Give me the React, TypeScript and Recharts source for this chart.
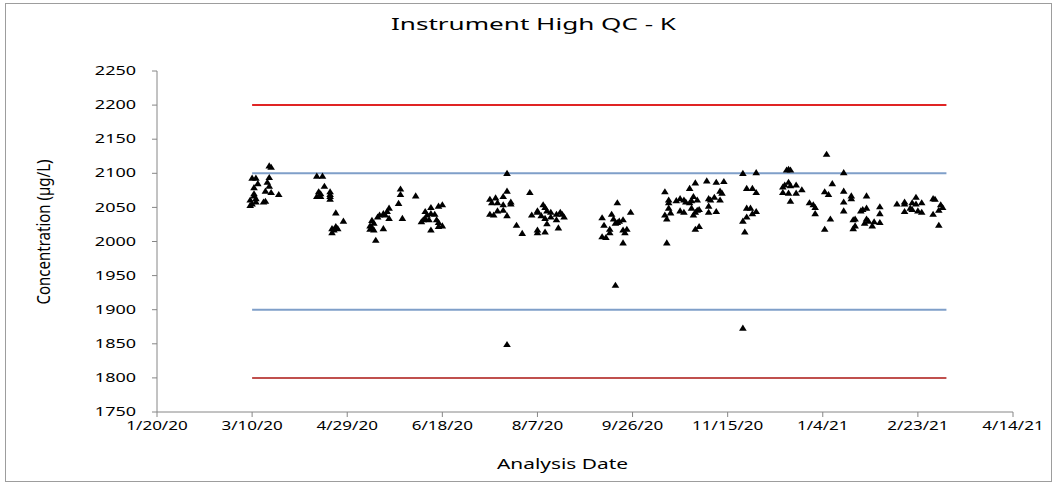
import { ScatterChart, Scatter, XAxis, YAxis, ReferenceLine } from "recharts"

// x values are days counted from 1/20/20
const xTickDays = [0, 50, 100, 150, 200, 250, 300, 350, 400, 450]
const xTickLabels = ["1/20/20", "3/10/20", "4/29/20", "6/18/20", "8/7/20", "9/26/20", "11/15/20", "1/4/21", "2/23/21", "4/14/21"]
const yTicks = [1750, 1800, 1850, 1900, 1950, 2000, 2050, 2100, 2150, 2200, 2250]

// control limits run from 3/10/20 to 3/10/21
const limitStartDay = 50
const limitEndDay = 415
const limitValues = [2200, 2100, 1900, 1800]

const sampleDays = [
  59, 60, 50, 52, 59, 53, 58, 51, 59, 57, 60, 64, 51, 51, 52, 49, 52, 56, 57, 49, 50,
  84, 87, 88, 85, 86, 84, 86, 91, 91, 91, 91,
  94, 98, 92, 94, 95, 93, 92,
  113, 114, 112, 113, 114, 112, 115, 119, 116, 117, 119, 121, 122, 120, 122, 128, 128, 127, 129, 136,
  144, 148, 150, 141, 144, 142, 146, 140, 141, 139, 143, 147, 148, 150, 148, 144,
  184, 184, 175, 178, 176, 179, 182, 182, 186, 186, 175, 177, 179, 182, 184, 189, 192, 184,
  196, 203, 204, 200, 200, 197, 205, 207, 202, 204, 207, 210, 212, 213, 214, 210, 205, 211, 200, 200, 204,
  242, 234, 239, 240, 242, 243, 241, 245, 249, 235, 238, 238, 234, 236, 245, 247, 246, 245, 241,
  267, 269, 269, 273, 275, 277, 269, 267, 268, 270, 275, 277, 268, 280, 283, 289, 294, 298, 296, 297,
  282, 281, 284, 278, 280, 290, 291, 293, 296, 281, 284, 285, 290, 290, 294, 283, 285, 282, 283,
  308, 315, 310, 313, 315, 310, 312, 315, 313, 310, 308, 309, 308,
  332, 331, 333, 330, 332, 329, 333, 336, 339, 329, 332, 336, 333,
  352, 361, 355, 351, 353, 361, 361, 361, 354, 351, 343, 345, 346, 346, 365, 365, 373, 371, 370, 373,
  380, 380, 366, 367, 367, 366, 372, 374, 373, 376, 377, 380,
  389, 393, 393, 397, 399, 402, 399, 396, 397, 400, 402, 393, 408, 409, 412, 413, 411, 408, 411,
]

const sampleValues = [
  2111, 2109, 2093, 2093, 2094, 2085, 2087, 2079, 2081, 2074, 2072, 2069, 2070, 2067, 2063, 2061, 2058, 2058, 2059, 2053, 2055,
  2096, 2096, 2081, 2073, 2070, 2066, 2066, 2073, 2069, 2066, 2062,
  2042, 2030, 2019, 2022, 2019, 2017, 2013,
  2031, 2027, 2023, 2021, 2017, 2018, 2002, 2019, 2036, 2039, 2041, 2044, 2049, 2039, 2034, 2077, 2069, 2056, 2034, 2067,
  2050, 2052, 2054, 2044, 2041, 2039, 2040, 2032, 2034, 2029, 2032, 2032, 2028, 2023, 2022, 2017,
  2100, 2074, 2062, 2064, 2057, 2057, 2066, 2054, 2058, 2055, 2040, 2039, 2045, 2046, 2038, 2024, 2012, 1849,
  2072, 2054, 2050, 2045, 2043, 2039, 2045, 2043, 2038, 2034, 2036, 2040, 2043, 2040, 2036, 2032, 2026, 2020, 2017, 2013, 2014,
  2057, 2035, 2040, 2033, 2028, 2030, 2027, 2032, 2043, 2024, 2018, 2013, 2007, 2006, 2017, 2018, 2013, 1998, 1936,
  2073, 2061, 2057, 2060, 2063, 2061, 2049, 2039, 2033, 2042, 2045, 2043, 1998, 2078, 2086, 2089, 2087, 2088, 2074, 2071,
  2066, 2060, 2061, 2058, 2057, 2063, 2061, 2065, 2061, 2049, 2046, 2047, 2052, 2043, 2044, 2018, 2022, 2039, 2043,
  2100, 2101, 2078, 2078, 2072, 2049, 2049, 2044, 2041, 2036, 2030, 2014, 1873,
  2106, 2105, 2105, 2083, 2087, 2080, 2082, 2083, 2076, 2072, 2071, 2071, 2059,
  2128, 2101, 2085, 2073, 2069, 2074, 2058, 2045, 2033, 2018, 2057, 2054, 2050, 2041, 2067, 2063, 2067, 2047, 2045, 2049,
  2051, 2041, 2032, 2033, 2023, 2019, 2027, 2030, 2033, 2023, 2029, 2028,
  2055, 2058, 2055, 2057, 2055, 2057, 2065, 2049, 2047, 2045, 2043, 2044, 2063, 2062, 2054, 2050, 2046, 2040, 2024,
]

const points = sampleDays.map((day, i) => ({ day, value: sampleValues[i] }))

const limitColors: Record<number, string> = { 2200: "#e02424", 2100: "#7f9fc9", 1900: "#7f9fc9", 1800: "#c0504d" }
const font = "'Noto Sans', sans-serif"

const Triangle = (props: any) => {
  const { cx, cy } = props
  return <polygon points={`${cx},${cy - 3.5} ${cx + 3.8},${cy + 2.6} ${cx - 3.8},${cy + 2.6}`} fill="#000" />
}

const XTick = ({ x, y, payload }: any) => {
  const i = xTickDays.indexOf(payload.value)
  return (
    <text x={x} y={y} dy="0.71em" textAnchor="middle" fontSize={12} fontFamily={font} fill="#000"
      transform={`translate(${x},0) scale(1.42,1) translate(${-x},0)`}>
      {xTickLabels[i]}
    </text>
  )
}

const YTick = ({ x, y, payload }: any) => (
  <text x={x} y={y} dy="0.35em" textAnchor="end" fontSize={12} fontFamily={font} fill="#000"
    transform={`translate(${x},0) scale(1.5,1) translate(${-x},0)`}>
    {payload.value}
  </text>
)

export default function App() {
  return (
    <div style={{ position: "absolute", left: 0, top: 0, width: 1058, height: 487, background: "#fff" }}>
      <div style={{ position: "absolute", left: 5, top: 3, width: 1045, height: 477, border: "1px solid #9d9d9d" }} />
      <div style={{ position: "absolute", left: 0, top: 0 }}>
        <ScatterChart width={1058} height={487} margin={{ top: 71, right: 45, bottom: 45, left: 97 }}>
          <XAxis
            type="number"
            dataKey="day"
            domain={[0, 450]}
            ticks={xTickDays}
            height={30}
            stroke="#868686"
            tickSize={5}
            tickMargin={4}
            tick={<XTick />}
            allowDataOverflow
          />
          <YAxis
            type="number"
            dataKey="value"
            domain={[1750, 2250]}
            ticks={yTicks}
            width={60}
            stroke="#868686"
            tickSize={5}
            tickMargin={16}
            tick={<YTick />}
            allowDataOverflow
          />
          {limitValues.map((v) => (
            <ReferenceLine
              key={v}
              segment={[{ x: limitStartDay, y: v }, { x: limitEndDay, y: v }]}
              stroke={limitColors[v]}
              strokeWidth={2}
            />
          ))}
          <Scatter data={points} shape={<Triangle />} isAnimationActive={false} />
        </ScatterChart>
      </div>
      <svg width={1058} height={487} style={{ position: "absolute", left: 0, top: 0, pointerEvents: "none" }}>
        <text x={391} y={29.5} fontSize={17} fontFamily={font} fill="#000" textLength={285} lengthAdjust="spacingAndGlyphs">
          Instrument High QC - K
        </text>
        <text x={497} y={469} fontSize={14} fontFamily={font} fill="#000" textLength={131} lengthAdjust="spacingAndGlyphs">
          Analysis Date
        </text>
        <text transform="translate(50,232) scale(1.35,1) rotate(-90)" textAnchor="middle" fontSize={13} fontFamily={font}
          fill="#000" textLength={145} lengthAdjust="spacingAndGlyphs">
          Concentration (µg/L)
        </text>
      </svg>
    </div>
  )
}
